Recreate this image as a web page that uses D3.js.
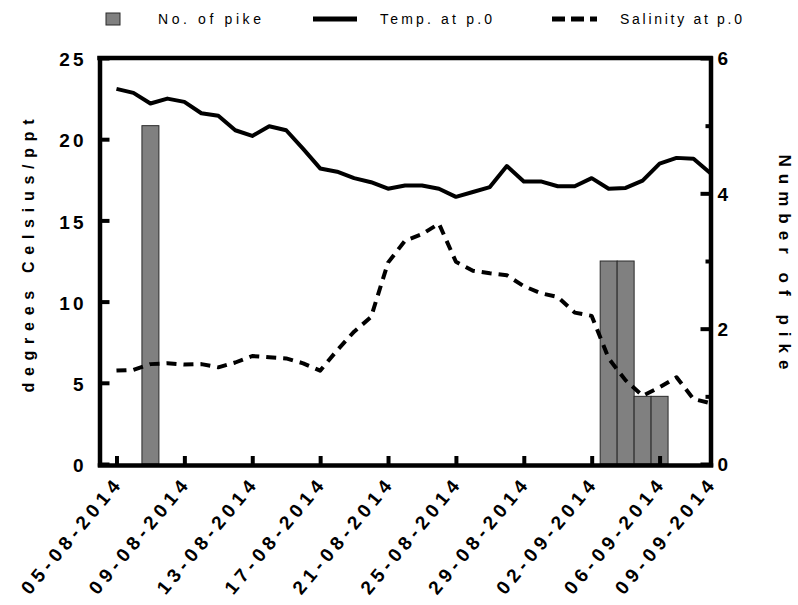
<!DOCTYPE html>
<html><head><meta charset="utf-8">
<script src="https://cdn.jsdelivr.net/npm/d3@7"></script>
<style>
body{margin:0;background:#fff;}
svg{display:block;font-family:"Liberation Sans",Arial,sans-serif;}
</style></head><body>
<svg id="chart" width="798" height="605"></svg>
<script>
// ---------- data ----------
const dates = ["2014-08-05","2014-08-06","2014-08-07","2014-08-08","2014-08-09","2014-08-10","2014-08-11","2014-08-12",
  "2014-08-13","2014-08-14","2014-08-15","2014-08-16","2014-08-17","2014-08-18","2014-08-19","2014-08-20",
  "2014-08-21","2014-08-22","2014-08-23","2014-08-24","2014-08-25","2014-08-26","2014-08-27","2014-08-28",
  "2014-08-29","2014-08-30","2014-08-31","2014-09-01","2014-09-02","2014-09-03","2014-09-04","2014-09-05",
  "2014-09-06","2014-09-07","2014-09-08","2014-09-09"];
const temperature = [23.1,22.85,22.2,22.5,22.3,21.6,21.45,20.55,20.2,20.8,20.55,19.4,18.2,18.0,17.6,17.35,
  16.95,17.15,17.15,16.95,16.45,16.75,17.05,18.35,17.4,17.4,17.1,17.1,17.6,16.95,17.0,17.45,18.5,18.85,18.8,17.9];
const salinity = [5.75,5.8,6.15,6.2,6.12,6.15,5.95,6.25,6.65,6.57,6.5,6.2,5.75,7.0,8.15,9.05,
  12.4,13.75,14.15,14.8,12.45,11.9,11.74,11.62,10.95,10.52,10.28,9.32,9.12,6.5,5.15,4.2,4.72,5.34,4.0,3.75];
const pikeDates = ["2014-08-07","2014-09-03","2014-09-04","2014-09-05","2014-09-06"];
const pikeCounts = [5,3,3,1,1];
const xTickDates = ["2014-08-05","2014-08-09","2014-08-13","2014-08-17","2014-08-21","2014-08-25",
  "2014-08-29","2014-09-02","2014-09-06","2014-09-09"];
const xDomain = ["2014-08-04","2014-09-09"];
const leftTicks = [0,5,10,15,20,25];
const rightMajorTicks = [0,2,4,6];
const rightMinorTicks = [1,3,5];
const legendLabels = ["No. of pike","Temp. at p.0","Salinity at p.0"];
const leftTitle = "degrees Celsius/ppt";
const rightTitle = "Number of pike";

// ---------- layout ----------
const parse = d3.utcParse("%Y-%m-%d");
const fmt = d3.utcFormat("%d-%m-%Y");
const X0 = 99.5, X1 = 710.5, YT = 58, YB = 464;
const svg = d3.select("#chart");

const x = d3.scaleUtc().domain(xDomain.map(parse)).range([X0, X1]);
const yL = d3.scaleLinear().domain([0, 25]).range([YB, YT]);
const yR = d3.scaleLinear().domain([0, 6]).range([YB, YT]);

// bars
const pike = pikeDates.map((d, i) => ({date: parse(d), n: pikeCounts[i]}));
svg.append("g").selectAll("rect").data(pike).join("rect")
  .attr("x", d => x(d3.utcHour.offset(d.date, -12)))
  .attr("width", d => x(d3.utcHour.offset(d.date, 12)) - x(d3.utcHour.offset(d.date, -12)))
  .attr("y", d => yR(d.n))
  .attr("height", d => yR(0) - yR(d.n))
  .attr("fill", "#808080").attr("stroke", "#2a2a2a").attr("stroke-width", 1);

// lines
const series = dates.map((d, i) => ({date: parse(d), t: temperature[i], s: salinity[i]}));
svg.append("path").datum(series)
  .attr("d", d3.line().x(d => x(d.date)).y(d => yL(d.t)))
  .attr("fill", "none").attr("stroke", "#000").attr("stroke-width", 4).attr("stroke-linejoin", "round");
svg.append("path").datum(series)
  .attr("d", d3.line().x(d => x(d.date)).y(d => yL(d.s)))
  .attr("fill", "none").attr("stroke", "#000").attr("stroke-width", 4)
  .attr("stroke-dasharray", "10,7").attr("stroke-linejoin", "round");

// axes
function styleAxis(g) {
  g.select(".domain").attr("stroke-width", 4.5).attr("stroke-linecap", "square");
  g.selectAll(".tick line").attr("stroke-width", 4);
}
const tickFont = g => g.selectAll("text").attr("font-size", 19).attr("font-weight", "bold")
  .attr("fill", "#000").style("letter-spacing", "3px");

// top border
svg.append("line").attr("x1", X0).attr("x2", X1).attr("y1", YT).attr("y2", YT)
  .attr("stroke", "#000").attr("stroke-width", 4.5).attr("stroke-linecap", "square");

const gl = svg.append("g").attr("transform", `translate(${X0},0)`)
  .call(d3.axisLeft(yL).tickValues(leftTicks).tickSize(-10).tickSizeOuter(0).tickPadding(13));
styleAxis(gl); tickFont(gl);
gl.selectAll("text").attr("dy", "0.4em");

const gr = svg.append("g").attr("transform", `translate(${X1},0)`)
  .call(d3.axisRight(yR).tickValues(rightMajorTicks).tickSize(-10).tickSizeOuter(0)
    .tickPadding(7).tickFormat(d3.format("d")));
styleAxis(gr); tickFont(gr);
gr.selectAll("text").attr("dy", "0.36em");
const grm = svg.append("g").attr("transform", `translate(${X1},0)`)
  .call(d3.axisRight(yR).tickValues(rightMinorTicks).tickSize(-5).tickSizeOuter(0).tickFormat(""));
grm.select(".domain").remove();
grm.selectAll(".tick line").attr("stroke-width", 4);

// bottom axis with rotated labels
const labAngle = 50, labLen = 142;
const rad = labAngle * Math.PI / 180;
const gb = svg.append("g").attr("transform", `translate(0,${YB + 1})`)
  .call(d3.axisBottom(x).tickValues(xTickDates.map(parse)).tickSize(-9).tickSizeOuter(0).tickFormat(fmt));
styleAxis(gb);
gb.selectAll("text").attr("x", 0).attr("y", 0).attr("dy", 0)
  .attr("text-anchor", "start")
  .attr("transform", `translate(${4 - labLen * Math.cos(rad)},${22 + labLen * Math.sin(rad)}) rotate(${-labAngle})`)
  .attr("font-size", 19).attr("font-weight", "bold").attr("fill", "#000")
  .attr("textLength", labLen).attr("lengthAdjust", "spacing");

// axis titles
svg.append("text").attr("transform", "translate(34,256) rotate(-90)")
  .attr("text-anchor", "middle").attr("font-size", 16).attr("font-weight", "bold")
  .attr("textLength", 273).attr("lengthAdjust", "spacing").text(leftTitle);
svg.append("text").attr("transform", "translate(779,262) rotate(90)")
  .attr("text-anchor", "middle").attr("font-size", 17).attr("font-weight", "bold")
  .attr("textLength", 215).attr("lengthAdjust", "spacing").text(rightTitle);

// legend
const lg = svg.append("g");
lg.append("rect").attr("x", 106).attr("y", 13).attr("width", 14).attr("height", 12)
  .attr("fill", "#808080").attr("stroke", "#2a2a2a").attr("stroke-width", 1);
lg.append("line").attr("x1", 313).attr("x2", 357).attr("y1", 19).attr("y2", 19)
  .attr("stroke", "#000").attr("stroke-width", 5);
lg.append("line").attr("x1", 552).attr("x2", 597).attr("y1", 19).attr("y2", 19)
  .attr("stroke", "#000").attr("stroke-width", 5).attr("stroke-dasharray", "13,6");
const legX = [158, 380, 620], legLen = [103, 112, 122];
lg.selectAll("text.leg").data(legendLabels).join("text").attr("class", "leg")
  .attr("x", (d, i) => legX[i]).attr("y", 24)
  .attr("font-size", 14).attr("textLength", (d, i) => legLen[i]).attr("lengthAdjust", "spacing")
  .text(d => d);
</script>
</body></html>
